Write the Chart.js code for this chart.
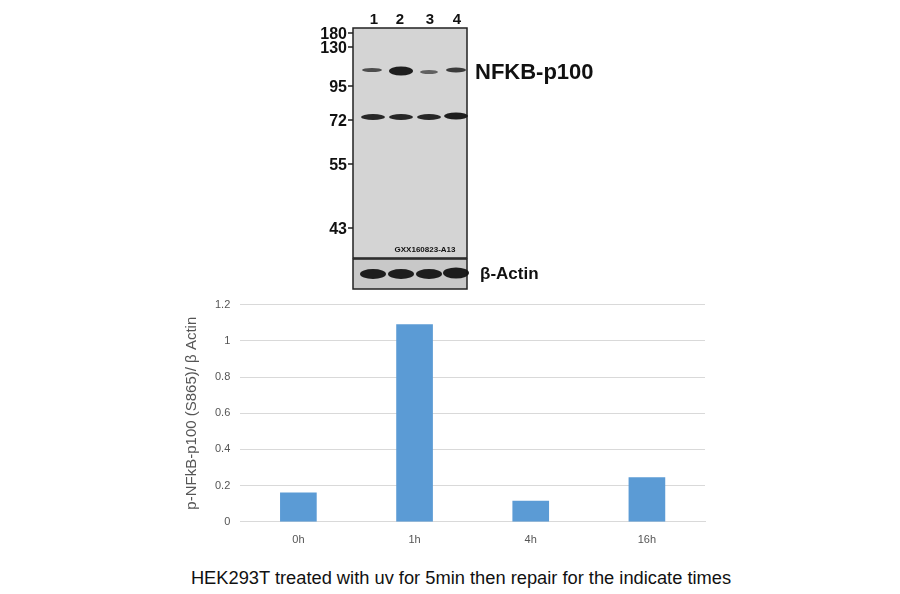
<!DOCTYPE html>
<html>
<head>
<meta charset="utf-8">
<script src="https://cdn.jsdelivr.net/npm/chart.js@4"></script>
<style>
body{margin:0;background:#fff;width:900px;height:594px;position:relative;overflow:hidden;font-family:"Liberation Sans",Arial,sans-serif}
#blot{position:absolute;left:0;top:0}
#box{position:absolute;left:179px;top:288px;width:550px;height:263px}
#cap{position:absolute;left:0;width:922px;top:567px;text-align:center;font-size:18.3px;color:#111}
</style>
</head>
<body>
<canvas id="blot" width="900" height="295"></canvas>
<div id="box"><canvas id="grafico"></canvas></div>
<div id="cap">HEK293T treated with uv for 5min then repair for the indicate times</div>
<script>
// datos del grafico
var etiquetas = ["0h", "1h", "4h", "16h"];
var valores = [0.16, 1.09, 0.115, 0.245];
var marcadores = ["180", "130", "95", "72", "55", "43"];

// dibujo del blot (decorativo)
var c = document.getElementById("blot").getContext("2d");
c.fillStyle = "#d4d4d4"; c.fillRect(353, 28, 114, 230);
c.strokeStyle = "#222"; c.lineWidth = 1.5; c.strokeRect(353, 28, 114, 230);
c.fillStyle = "#c8c8c8"; c.fillRect(353, 259, 114, 30); c.strokeRect(353, 259, 114, 30);
c.fillStyle = "#111"; c.font = "bold 15px 'Liberation Sans'"; c.textAlign = "center";
[374, 400, 430, 457].forEach(function(x, i){ c.fillText(String(i + 1), x, 24); });
var ys = [33, 47, 86, 120, 164, 228];
c.textAlign = "right"; c.font = "bold 16px 'Liberation Sans'";
marcadores.forEach(function(m, i){
  c.fillText(m, 347, ys[i] + 6);
  c.beginPath(); c.moveTo(348, ys[i]); c.lineTo(353, ys[i]); c.stroke();
});
function banda(x, y, w, h, a){ c.fillStyle = "rgba(20,20,20," + a + ")"; c.beginPath(); c.ellipse(x, y, w, h, 0, 0, Math.PI * 2); c.fill(); }
banda(372, 70, 10, 2, 0.7); banda(401, 71, 12, 4.5, 0.95); banda(429, 72, 9, 2, 0.6); banda(456, 70, 10, 2.5, 0.8);
banda(373, 117, 12, 3, 0.9); banda(401, 117, 12, 3, 0.9); banda(429, 117, 12, 3, 0.9); banda(456, 116, 12, 3.5, 0.95);
banda(373, 274, 13, 5, 0.95); banda(401, 274, 13, 5, 0.95); banda(429, 274, 13, 5, 0.95); banda(456, 273, 13, 5.5, 0.95);
c.fillStyle = "#111"; c.font = "bold 8px 'Liberation Sans'"; c.textAlign = "center"; c.fillText("GXX160823-A13", 425, 252);
c.textAlign = "left"; c.font = "bold 22px 'Liberation Sans'"; c.fillText("NFKB-p100", 475, 79);
c.font = "bold 17px 'Liberation Sans'"; c.fillText("β-Actin", 480, 279);

// grafico de barras
var ctx = document.getElementById("grafico").getContext("2d");
var miGrafico = new Chart(ctx, {
  type: "bar",
  data: {
    labels: etiquetas,
    datasets: [{ data: valores, backgroundColor: "#5b9bd5", barThickness: 36 }]
  },
  options: {
    responsive: true, maintainAspectRatio: false, animation: false,
    layout: { padding: { top: 16, right: 24 } },
    plugins: { legend: { display: false }, tooltip: { enabled: false } },
    scales: {
      x: { grid: { display: false }, border: { color: "#d9d9d9" },
           ticks: { color: "#555", font: { size: 11 }, padding: 4 } },
      y: { min: 0, max: 1.2,
           ticks: { stepSize: 0.2, color: "#555", font: { size: 11 }, padding: 10,
                    callback: function(v){ return String(Math.round(v * 10) / 10); } },
           grid: { color: "#d9d9d9", drawTicks: false }, border: { display: false },
           title: { display: true, text: "p-NFkB-p100 (S865)/ β Actin", color: "#555", font: { size: 15 } } }
    }
  }
});
</script>
</body>
</html>
